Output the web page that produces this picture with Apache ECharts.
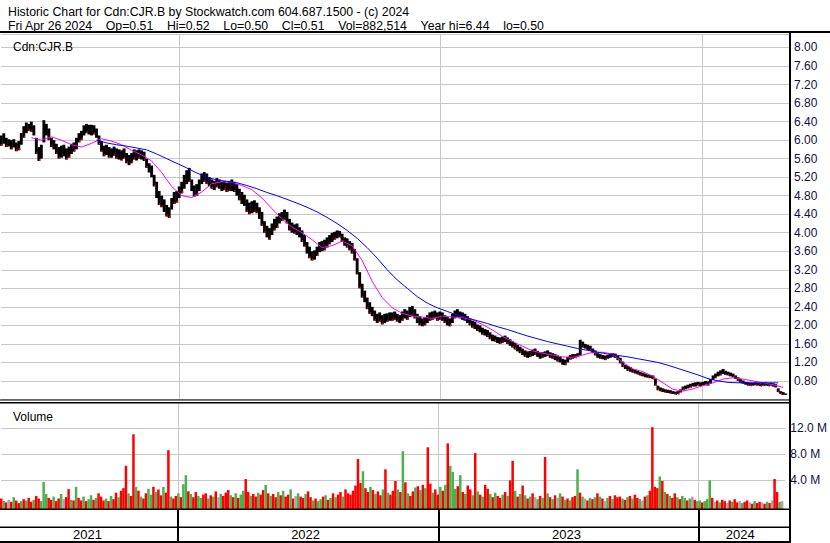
<!DOCTYPE html>
<html><head><meta charset="utf-8">
<script src="https://cdn.jsdelivr.net/npm/echarts/dist/echarts.min.js"></script>
<style>html,body{margin:0;padding:0;background:#fff}#c{width:830px;height:543px}</style>
</head><body><div id="c"></div><script>
// ---- data (half-week bars, index j -> week 0.25+0.5*j since Mon 2021-04-26) ----
const lows = [
5.88,5.92,5.85,5.86, 5.80,5.84,5.76,5.78, 5.90,6.05,6.15,6.20, 6.18,6.10,5.70,5.55, 5.60,5.95,6.10,6.00,
5.85,5.80,5.70,5.60, 5.62,5.65,5.58,5.62, 5.70,5.75,5.80,5.95, 6.00,6.10,6.15,6.12, 6.10,6.12,6.05,5.90,
5.75,5.65,5.68,5.62, 5.62,5.66,5.60,5.58, 5.56,5.60,5.50,5.46, 5.50,5.58,5.56,5.60, 5.58,5.55,5.40,5.30,
5.20,5.00,4.75,4.60, 4.55,4.45,4.35,4.32, 4.50,4.62,4.65,4.75, 4.85,4.95,5.05,5.10, 4.90,4.78,4.80,4.90,
5.05,5.10,5.05,5.00, 4.95,4.92,4.98,4.95, 4.90,4.92,4.88,4.90, 4.90,4.88,4.80,4.70, 4.62,4.58,4.45,4.40,
4.42,4.45,4.42,4.30, 4.15,4.00,3.90,3.85, 3.95,4.05,4.10,4.20, 4.25,4.28,4.20,4.05, 4.00,3.98,3.95,3.90,
3.80,3.70,3.55,3.45, 3.40,3.42,3.50,3.58, 3.60,3.62,3.68,3.75, 3.80,3.85,3.88,3.90, 3.80,3.72,3.68,3.62,
3.55,3.40,3.10,2.80, 2.60,2.50,2.35,2.25, 2.20,2.10,2.05,2.08, 2.02,2.05,2.08,2.10, 2.10,2.12,2.08,2.05,
2.10,2.15,2.12,2.18, 2.20,2.15,2.05,2.00, 1.98,2.00,2.05,2.10, 2.12,2.15,2.10,2.12, 2.10,2.05,2.00,1.98,
2.05,2.15,2.18,2.15, 2.12,2.10,2.05,2.00, 1.95,1.92,1.88,1.85, 1.80,1.78,1.75,1.70, 1.66,1.65,1.62,1.60,
1.62,1.64,1.60,1.56, 1.52,1.48,1.44,1.40, 1.36,1.32,1.30,1.32, 1.34,1.36,1.32,1.28, 1.30,1.32,1.34,1.30,
1.28,1.25,1.22,1.20, 1.15,1.14,1.20,1.26, 1.28,1.30,1.32,1.35, 1.52,1.50,1.47,1.45, 1.40,1.35,1.30,1.28,
1.27,1.25,1.28,1.30, 1.32,1.30,1.25,1.18, 1.10,1.06,1.02,1.00, 0.98,0.96,0.94,0.92, 0.90,0.88,0.87,0.86,
0.84,0.70,0.60,0.58, 0.56,0.55,0.54,0.53, 0.52,0.51,0.52,0.55, 0.60,0.62,0.64,0.66, 0.68,0.68,0.70,0.69,
0.70,0.71,0.70,0.74, 0.82,0.86,0.90,0.92, 0.95,0.93,0.92,0.90, 0.88,0.84,0.80,0.76, 0.74,0.72,0.70,0.70,
0.70,0.71,0.70,0.69, 0.70,0.70,0.69,0.70, 0.68,0.66,0.56,0.52, 0.50,0.50];
const highs = [
6.10,6.15,6.05,6.02, 6.00,6.02,5.95,5.98, 6.15,6.30,6.38,6.35, 6.40,6.32,6.05,5.85, 5.90,6.43,6.35,6.25,
6.05,6.00,5.92,5.85, 5.88,5.90,5.82,5.86, 5.92,5.95,6.05,6.15, 6.20,6.32,6.35,6.33, 6.33,6.32,6.25,6.10,
5.98,5.88,5.90,5.85, 5.82,5.86,5.82,5.80, 5.78,5.82,5.72,5.68, 5.72,5.80,5.78,5.80, 5.78,5.75,5.60,5.50,
5.45,5.25,5.10,4.90, 4.80,4.72,4.60,4.55, 4.75,4.88,4.90,5.00, 5.10,5.25,5.35,5.40, 5.15,5.02,5.05,5.15,
5.28,5.31,5.28,5.20, 5.15,5.12,5.18,5.15, 5.10,5.12,5.08,5.12, 5.15,5.10,5.05,4.95, 4.88,4.82,4.72,4.65,
4.68,4.70,4.65,4.55, 4.45,4.25,4.15,4.10, 4.20,4.30,4.35,4.42, 4.45,4.50,4.45,4.30, 4.22,4.18,4.20,4.12,
4.05,3.95,3.80,3.70, 3.60,3.62,3.70,3.80, 3.82,3.85,3.90,3.95, 4.00,4.02,4.05,4.04, 3.98,3.90,3.88,3.82,
3.78,3.65,3.45,3.15, 2.90,2.75,2.60,2.50, 2.40,2.32,2.25,2.28, 2.22,2.25,2.26,2.28, 2.28,2.30,2.25,2.22,
2.30,2.35,2.32,2.40, 2.42,2.35,2.25,2.20, 2.15,2.18,2.22,2.28, 2.30,2.32,2.28,2.30, 2.28,2.22,2.18,2.15,
2.25,2.32,2.35,2.30, 2.28,2.25,2.20,2.15, 2.10,2.08,2.02,2.00, 1.95,1.92,1.90,1.85, 1.80,1.78,1.75,1.74,
1.76,1.78,1.74,1.70, 1.66,1.62,1.58,1.54, 1.50,1.46,1.44,1.45, 1.48,1.50,1.45,1.42, 1.42,1.44,1.46,1.42,
1.40,1.38,1.35,1.32, 1.28,1.26,1.32,1.36, 1.38,1.38,1.40,1.69, 1.65,1.60,1.58,1.56, 1.50,1.46,1.40,1.38,
1.36,1.35,1.36,1.40, 1.40,1.39,1.34,1.30, 1.22,1.15,1.12,1.10, 1.06,1.04,1.02,0.99, 0.98,0.96,0.94,0.93,
0.92,0.85,0.70,0.66, 0.64,0.62,0.61,0.60, 0.58,0.57,0.58,0.62, 0.68,0.70,0.72,0.74, 0.76,0.77,0.78,0.77,
0.78,0.80,0.79,0.84, 0.92,0.96,1.00,1.03, 1.06,1.02,1.00,0.98, 0.96,0.92,0.88,0.84, 0.81,0.78,0.77,0.76,
0.76,0.77,0.76,0.75, 0.76,0.77,0.76,0.76, 0.75,0.73,0.64,0.58, 0.56,0.53];
// volume in millions, one per bar
const volumes = [
1.2,0.8,0.6,1.0,0.7,1.4,0.9,0.5,0.8,1.1, 0.9,1.3,0.7,1.0,1.6,1.2,0.8,3.75,1.9,1.3,
1.0,1.5,0.8,1.2,1.9,1.1,1.4,2.65,1.0,0.9, 3.0,1.3,0.9,1.5,0.8,1.1,1.7,1.0,1.3,2.0,
1.5,0.9,1.2,0.8,1.6,1.1,2.1,1.4,2.4,2.8, 6.25,2.0,1.6,11.1,3.0,2.4,1.5,1.2,2.0,2.7,
1.8,3.0,2.2,2.6,1.7,3.0,2.1,8.65,1.5,1.2, 1.6,2.0,1.4,3.4,4.8,2.3,1.9,1.4,2.2,1.6,
1.3,1.8,2.0,1.2,1.7,1.5,2.3,1.4,1.9,1.6, 2.1,2.5,1.7,1.4,2.0,1.3,1.8,2.4,4.2,2.2,
1.6,1.9,1.5,2.1,1.8,2.5,3.3,2.0,1.6,1.9, 1.4,2.2,1.7,2.4,1.5,1.8,2.6,1.2,1.6,2.0,
1.5,1.3,1.9,2.3,1.4,0.9,1.2,0.8,1.1,1.5, 1.7,1.0,1.3,2.0,1.4,1.8,2.2,1.5,2.6,2.0,
1.8,2.4,3.2,7.3,3.6,5.4,2.8,2.2,3.0,2.5, 1.9,2.3,1.7,2.6,5.7,2.1,1.8,2.4,3.9,2.6,
2.2,8.5,3.7,2.0,1.6,2.3,2.9,3.1,2.5,3.3, 2.8,9.1,3.5,2.1,2.6,1.8,3.0,2.4,3.3,9.7,
6.25,5.3,2.7,3.1,4.8,2.2,1.9,3.2,2.6,1.7, 8.2,2.3,1.8,1.5,3.3,2.7,1.9,1.4,2.1,1.6,
1.3,1.8,2.2,1.6,4.0,7.0,2.4,1.5,1.9,3.2, 1.7,1.2,1.5,2.0,1.4,1.1,1.6,1.3,7.6,2.0,
1.4,1.1,1.7,1.3,2.0,1.5,1.0,1.2,0.9,1.4, 1.6,5.7,2.1,1.5,1.2,0.9,1.3,1.1,1.4,2.0,
1.5,1.2,0.8,1.3,1.6,1.1,1.7,1.4,1.5,1.2, 1.0,1.4,1.6,1.2,1.8,1.3,1.1,0.9,1.5,1.7,
2.4,12.2,3.0,2.8,4.6,3.9,2.2,1.9,1.6,1.3, 2.0,1.4,1.1,1.6,1.3,0.9,1.2,1.5,1.0,0.8,
0.9,0.6,0.8,1.1,4.0,1.3,0.7,0.9,0.6,1.0, 0.8,0.5,0.9,0.7,1.1,0.6,0.8,0.5,0.7,0.9,
0.6,0.4,0.8,0.5,0.7,0.6,0.4,0.7,0.5,0.9, 4.2,2.2,0.7,0.8];
// r = down, g = up, n = unchanged
const volDirs = ("rgrnrgrrgr"+"grrgrrgggr"+"rgrrgnrrgr"+"grrgrggrgr"+"rrgrgrrgrr"+"rgrrgrgrrg"+"grgrrgrrgr"+"rgrggrgrrg"+
 "grrgrgrngr"+"rrgrgrggrr"+"grrgrrgrgr"+"rgrgrrgrng"+"rrgrrgrggr"+"grgrgrrgrr"+"rrrrrgrrgr"+"grrgrgrrrg"+
 "rgrgrrgrgr"+"grrgrrgrgr"+"gggrgrgrrg"+"rgrgrrgrgr"+"rgrgrrgrgr"+"grgrngrgrg"+"rgrngrgrgr"+"rgrgnrgrgr"+
 "grngrgrrrg"+"rgrgrrgnrg"+"rrrrgrgrgr"+"rgrggrgnrg"+"grgggrnrgr"+"rnrgrrngrr"+"nrgrrnrgrn"+"rrgn").split('');
const maFastStart = 12;
const maFast = [6.05,6.0,6.07,6.0,5.9,5.85,5.93,6.03,5.98,5.9, 5.78,5.68,5.55,5.3,5.0,4.8,4.76,4.88,5.06,5.1,
 5.09,5.02,4.93,4.75,4.52,4.3,4.12,4.0,3.85,3.68, 3.72,3.82,3.72,3.4,2.95,2.6,2.38,2.26,2.2,2.18,
 2.15,2.2,2.18,2.17,2.12,2.02,1.9,1.76,1.65,1.55, 1.45,1.4,1.36,1.32,1.31,1.36,1.42,1.42,1.38,1.2,
 1.06,1.0,0.9,0.76,0.62,0.58,0.63,0.7,0.76,0.84, 0.87,0.84,0.8,0.76,0.72,0.66];
const maSlowStart = 38;
const maSlow = [6.0,5.94,5.9,5.87,5.83,5.79,5.7,5.6,5.5,5.4, 5.29,5.2,5.14,5.11,5.08,5.02,4.95,4.87,4.8,4.72,
 4.64,4.55,4.45,4.33,4.2,4.05,3.88,3.68,3.45,3.2, 2.98,2.8,2.62,2.48,2.38,2.3,2.22,2.16,2.1,2.04,
 1.97,1.91,1.84,1.77,1.71,1.65,1.6,1.55,1.5,1.46, 1.42,1.38,1.35,1.32,1.28,1.24,1.2,1.14,1.07,1.0,
 0.93,0.85,0.8,0.77,0.76,0.76,0.76,0.76,0.76];
const yearNames = ['2021','2022','2023','2024'];
const yearLabelPos = [17.55, 61.25, 113.54, 148.38];   // weeks
const yearBounds = [35.71, 87.86, 140.0];               // weeks (Jan 1)
const priceTicks = {min:0.4, max:8.28, step:0.4};
const volTicks = [4, 8, 12];
const GAP = '\u00a0\u00a0\u00a0\u00a0';
const headerLine1 = 'Historic Chart for Cdn:CJR.B by Stockwatch.com 604.687.1500 - (c) 2024';
const headerFields = ['Fri Apr 26 2024', 'Op=0.51', 'Hi=0.52', 'Lo=0.50', 'Cl=0.51', 'Vol=882,514', 'Year hi=6.44', 'lo=0.50'];
const headerLine2 = headerFields.join(GAP);

// ---- build ----
const wk = j => 0.25 + 0.5 * j;
const priceData = lows.map((lo, j) => [wk(j), lo, highs[j]]);
const volData = volumes.map((v, j) => [wk(j), v]);
const fastData = maFast.map((v, k) => [wk(maFastStart + 4 * k), v]);
const slowData = maSlow.map((v, k) => [wk(maSlowStart + 4 * k), v]);
const FONT = '"Liberation Sans", Arial, sans-serif';
const LBL = '#101040';
const GRID = '#c8c8c8';
const dirColor = {r:'#ff0000', g:'#4cb04c', n:'#a8a8a8'};
const ts = (size) => ({fontSize:size, fontWeight:'normal', fontFamily:FONT, color:'#000'});
const xCommon = {type:'value', min:0.2, max:157.4,
  axisTick:{show:false, customValues: yearBounds},
  splitLine:{show:true, lineStyle:{color:GRID, width:1}}};

const chart = echarts.init(document.getElementById('c'), null, {renderer:'svg'});
chart.setOption({
  animation:false,
  backgroundColor:'#fff',
  title:[
    {text:headerLine1, left:3, top:1, textStyle:ts(12.3)},
    {text:headerLine2, left:3, top:15, textStyle:ts(12.3)},
    {text:'Cdn:CJR.B', left:8, top:36, textStyle:ts(12)},
    {text:'Volume', left:8, top:406, textStyle:ts(12)}
  ],
  grid:[
    {left:1, right:41, top:34.5, bottom:143.5},
    {left:1, right:41, top:402.5, bottom:34}
  ],
  xAxis:[
    Object.assign({gridIndex:0, axisLine:{show:false}, axisLabel:{show:false}}, xCommon),
    Object.assign({gridIndex:1, axisLine:{show:false}, axisLabel:{show:false}}, xCommon),
    {type:'value', gridIndex:1, min:0.2, max:157.4, position:'bottom',
      axisLine:{show:false}, splitLine:{show:false},
      axisTick:{show:true, inside:false, length:33, customValues:yearBounds, lineStyle:{color:'#000', width:2}},
      axisLabel:{show:true, customValues:yearLabelPos, margin:19, fontSize:13, fontFamily:FONT, color:'#000',
        formatter:(v)=>{const i = yearLabelPos.findIndex(p=>Math.abs(p-v)<0.01); return i>=0?yearNames[i]:'';}}}
  ],
  yAxis:[
    {type:'value', gridIndex:0, position:'right', min:priceTicks.min, max:priceTicks.max, interval:priceTicks.step,
      axisLine:{show:false}, axisTick:{show:false},
      splitLine:{show:true, lineStyle:{color:GRID, width:1}},
      axisLabel:{margin:5, fontSize:12, fontFamily:FONT, color:LBL, showMinLabel:false, showMaxLabel:false,
        formatter:(v)=>v.toFixed(2)}},
    {type:'value', gridIndex:1, position:'right', min:-0.415, max:16,
      axisLine:{show:false}, axisTick:{show:false, customValues:volTicks},
      splitLine:{show:true, lineStyle:{color:GRID, width:1}},
      axisLabel:{margin:5, fontSize:12, fontFamily:FONT, color:LBL, customValues:volTicks,
        formatter:(v)=>v.toFixed(1)+' M'}}
  ],
  series:[
    {type:'custom', xAxisIndex:0, yAxisIndex:0, data:priceData, encode:{x:0, y:[1,2]},
      renderItem:(params, api)=>{
        const x = api.value(0);
        const a = api.coord([x, api.value(1)]), b = api.coord([x, api.value(2)]);
        const w = api.size([0.5, 0])[0] + 0.4;
        const h = Math.max(1, a[1]-b[1]);
        const children = [{type:'rect', shape:{x:a[0]-w/2, y:b[1], width:w, height:h}, style:{fill:'#000'}}];
        if (volDirs[params.dataIndex] === 'r') {
          children.push({type:'rect', shape:{x:a[0], y:a[1]-Math.min(2, h*0.4), width:1.5, height:1.8}, style:{fill:'#ff0000'}});
        }
        return {type:'group', children};
      }},
    {type:'line', xAxisIndex:0, yAxisIndex:0, data:fastData, showSymbol:false, lineStyle:{color:'#ff00ff', width:1}, z:3},
    {type:'line', xAxisIndex:0, yAxisIndex:0, data:slowData, showSymbol:false, lineStyle:{color:'#0000ff', width:1}, z:3},
    {type:'custom', xAxisIndex:1, yAxisIndex:1, data:volData, encode:{x:0, y:1},
      renderItem:(params, api)=>{
        const x = api.value(0);
        const top = api.coord([x, api.value(1)]);
        const bottom = params.coordSys.y + params.coordSys.height;
        const w = api.size([0.5, 0])[0];
        const d = volDirs[params.dataIndex];
        return {type:'rect', shape:{x:top[0]-w/2, y:top[1], width:w, height:bottom-top[1]}, style:{fill:dirColor[d]}};
      }}
  ],
  graphic:[
    {type:'rect', shape:{x:0, y:31, width:830, height:2}, style:{fill:'#000'}, z:100},
    {type:'rect', shape:{x:789, y:31, width:2, height:512}, style:{fill:'#000'}, z:100},
    {type:'rect', shape:{x:0, y:399.5, width:790, height:1}, style:{fill:'#000'}, z:100},
    {type:'rect', shape:{x:0, y:402, width:790, height:1.5}, style:{fill:'#000'}, z:100},
    {type:'rect', shape:{x:0, y:508.5, width:790, height:1.5}, style:{fill:'#000'}, z:100},
    {type:'rect', shape:{x:0, y:526.5, width:790, height:1.5}, style:{fill:'#000'}, z:100},
    {type:'rect', shape:{x:0, y:541, width:790, height:2}, style:{fill:'#000'}, z:100}
  ]
});
</script></body></html>
